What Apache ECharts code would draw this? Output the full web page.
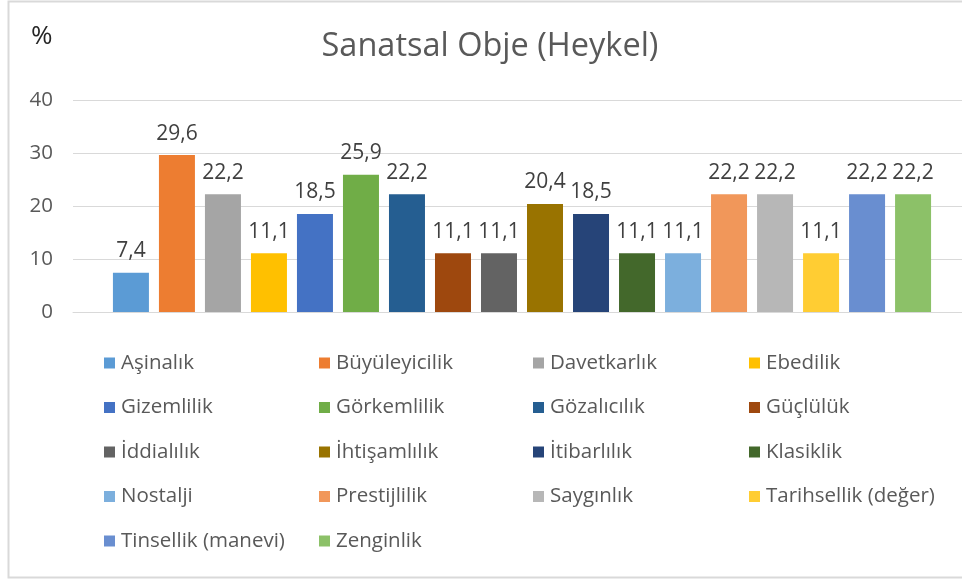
<!DOCTYPE html>
<html>
<head>
<meta charset="utf-8">
<script src="https://cdn.jsdelivr.net/npm/echarts@6/dist/echarts.min.js"></script>
<style>
html,body{margin:0;padding:0;background:#fff;overflow:hidden;}
#chart{width:980px;height:580px;}
</style>
</head>
<body>
<div id="chart"></div>
<script>
const seriesNames = ["Aşinalık","Büyüleyicilik","Davetkarlık","Ebedilik","Gizemlilik","Görkemlilik","Gözalıcılık","Güçlülük","İddialılık","İhtişamlılık","İtibarlılık","Klasiklik","Nostalji","Prestijlilik","Saygınlık","Tarihsellik (değer)","Tinsellik (manevi)","Zenginlik"];
const seriesValues = [7.4,29.6,22.2,11.1,18.5,25.9,22.2,11.1,11.1,20.4,18.5,11.1,11.1,22.2,22.2,11.1,22.2,22.2];
const seriesColors = ["#5B9BD5","#ED7D31","#A5A5A5","#FFC000","#4472C4","#70AD47","#255E91","#9E480E","#636363","#997300","#264478","#43682B","#7CAFDD","#F1975A","#B7B7B7","#FFCD33","#698ED0","#8CC168"];
const categories = [""];
const yTicks = [0,10,20,30,40];
const titleText = "Sanatsal Obje (Heykel)";
const unitText = "%";

const FONT = "'Open Sans', sans-serif";
const chart = echarts.init(document.getElementById('chart'));

const legendCols = [104, 319, 533, 749];
const legends = legendCols.map((x, c) => ({
  data: seriesNames.filter((_, i) => i % 4 === c),
  orient: 'vertical',
  left: x,
  top: 352,
  padding: 0,
  itemWidth: 11,
  itemHeight: 11,
  itemGap: 22.5,
  icon: 'rect',
  selectedMode: false,
  textStyle: { color: '#595959', fontSize: 20.5, fontFamily: FONT, lineHeight: 22, padding: [0,0,0,1] }
}));

chart.setOption({
  backgroundColor: '#fff',
  animation: false,
  textStyle: { fontFamily: FONT },
  title: [
    { text: titleText, left: 485, top: 25, textAlign: 'center',
      textStyle: { color: '#595959', fontSize: 32.5, fontWeight: 'normal', fontFamily: FONT } },
    { text: unitText, left: 26, top: 19,
      textStyle: { color: '#262626', fontSize: 26, fontWeight: 'normal', fontFamily: FONT } }
  ],
  graphic: [{
    type: 'rect', silent: true, z: -1,
    shape: { x: 8.5, y: 1.5, width: 1000, height: 576 },
    style: { fill: 'none', stroke: '#d9d9d9', lineWidth: 2 }
  }],
  legend: legends,
  grid: { left: 73, top: 100, height: 212, right: 9, containLabel: false },
  xAxis: {
    type: 'category', data: categories,
    axisLine: { show: true, lineStyle: { color: '#d9d9d9', width: 1 } },
    axisTick: { show: false }, axisLabel: { show: false }
  },
  yAxis: {
    type: 'value', min: yTicks[0], max: yTicks[yTicks.length-1], interval: 10,
    axisLine: { show: false }, axisTick: { show: false },
    splitLine: { lineStyle: { color: '#d9d9d9', width: 1 } },
    axisLabel: { color: '#595959', fontSize: 20.5, margin: 20, fontFamily: FONT }
  },
  series: seriesNames.map((name, i) => ({
    name, type: 'bar',
    data: [seriesValues[i]],
    barWidth: 36,
    barGap: '27.8%',
    itemStyle: { color: seriesColors[i] },
    label: {
      show: true, position: 'top', distance: 11,
      color: '#404040', fontSize: 21, fontFamily: FONT,
      formatter: p => String(p.value).replace('.', ',')
    }
  }))
});
</script>
</body>
</html>
